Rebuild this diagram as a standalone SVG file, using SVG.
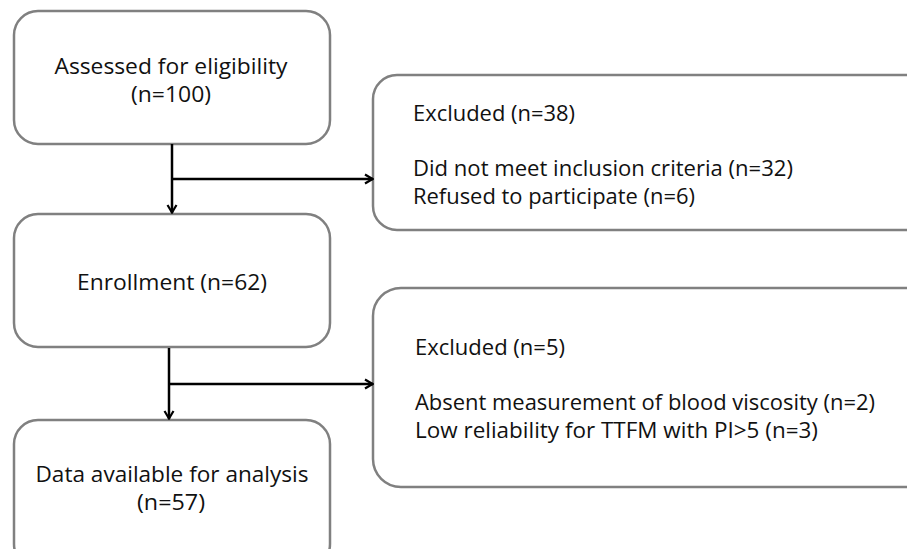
<svg xmlns="http://www.w3.org/2000/svg" width="907" height="549" viewBox="0 0 907 549">
<defs>
<marker id="ah" viewBox="0 0 12 12" refX="11" refY="6" markerWidth="12" markerHeight="12" markerUnits="userSpaceOnUse" orient="auto">
<path d="M3,1.5 L10.5,6 L3,10.5" fill="none" stroke="#000" stroke-width="2.2"/>
</marker>
<style>
.box{fill:#fff;stroke:#808080;stroke-width:2.5}
.t{font-family:"Open Sans","Noto Sans","Liberation Sans",sans-serif;font-size:21.5px;fill:#111}
.c{text-anchor:middle}
.ln{fill:none;stroke:#000;stroke-width:2.5}
</style>
</defs>
<rect width="907" height="549" fill="#fff"/>
<g id="assessed">
<rect class="box" x="14" y="11" width="316" height="133" rx="24"/>
<text class="t c" x="171" y="74" textLength="233" lengthAdjust="spacingAndGlyphs">Assessed for eligibility</text>
<text class="t c" x="171" y="102" textLength="80" lengthAdjust="spacingAndGlyphs">(n=100)</text>
</g>
<g id="excluded1">
<rect class="box" x="373" y="75" width="560" height="155" rx="24"/>
<text class="t" x="413" y="121" textLength="162" lengthAdjust="spacingAndGlyphs">Excluded (n=38)</text>
<text class="t" x="413" y="176" textLength="380" lengthAdjust="spacingAndGlyphs">Did not meet inclusion criteria (n=32)</text>
<text class="t" x="413" y="204" textLength="282" lengthAdjust="spacingAndGlyphs">Refused to participate (n=6)</text>
</g>
<g id="enrollment">
<rect class="box" x="14" y="214" width="316" height="133" rx="24"/>
<text class="t c" x="172" y="290" textLength="190" lengthAdjust="spacingAndGlyphs">Enrollment (n=62)</text>
</g>
<g id="excluded2">
<rect class="box" x="373" y="288" width="560" height="199" rx="28"/>
<text class="t" x="415" y="355" textLength="150" lengthAdjust="spacingAndGlyphs">Excluded (n=5)</text>
<text class="t" x="415" y="410" textLength="460" lengthAdjust="spacingAndGlyphs">Absent measurement of blood viscosity (n=2)</text>
<text class="t" x="415" y="438" textLength="403" lengthAdjust="spacingAndGlyphs">Low reliability for TTFM with PI&gt;5 (n=3)</text>
</g>
<g id="analysis">
<rect class="box" x="14" y="420" width="316" height="148" rx="24"/>
<text class="t c" x="172" y="482" textLength="273" lengthAdjust="spacingAndGlyphs">Data available for analysis</text>
<text class="t c" x="171" y="510" textLength="68" lengthAdjust="spacingAndGlyphs">(n=57)</text>
</g>
<g id="connectors">
<line class="ln" x1="172" y1="144" x2="172" y2="213" marker-end="url(#ah)"/>
<line class="ln" x1="172" y1="179" x2="373" y2="179" marker-end="url(#ah)"/>
<line class="ln" x1="169" y1="348" x2="169" y2="419" marker-end="url(#ah)"/>
<line class="ln" x1="169" y1="384" x2="373" y2="384" marker-end="url(#ah)"/>
</g>
</svg>
